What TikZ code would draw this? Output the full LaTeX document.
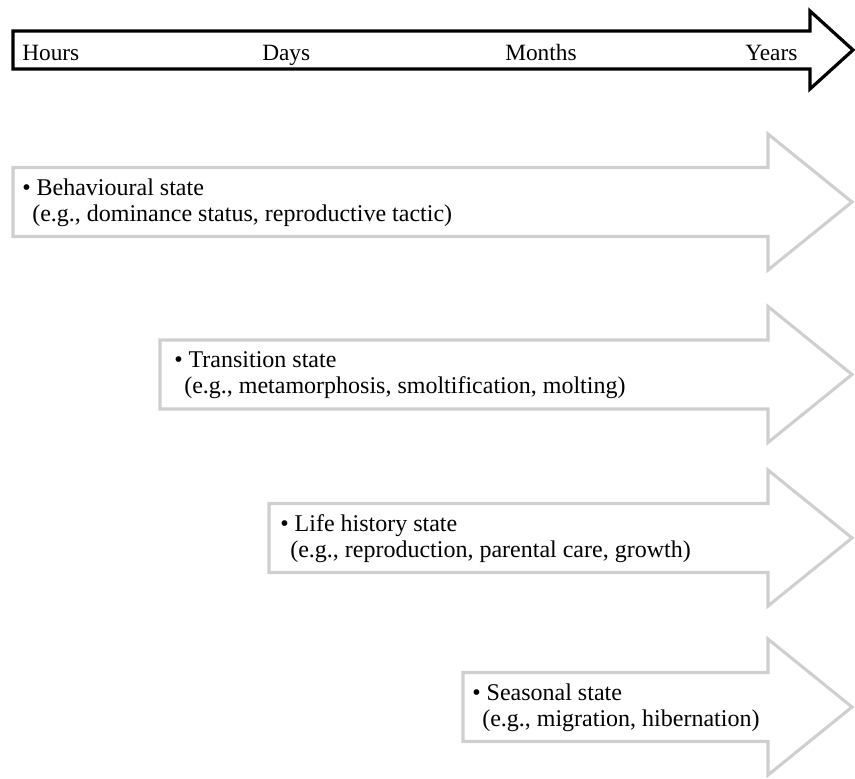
\documentclass[tikz,border=0pt]{standalone}
\usepackage{fontspec}
\setmainfont{Liberation Serif}
\begin{document}
\begin{tikzpicture}[x=0.75pt,y=-0.75pt,
  timearrow/.style={draw=black,line width=2.4pt,fill=white,line join=miter},
  statearrow/.style={draw=black!19,line width=2.3pt,fill=white,line join=miter},
  scalelabel/.style={anchor=base west,inner sep=0pt,font=\fontsize{17.5}{19.5}\selectfont},
  statelabel/.style={anchor=west,inner sep=0pt,align=left,font=\fontsize{18}{19.75}\selectfont}]
\useasboundingbox (0,0) rectangle (855,778);
% time scale arrow
\draw[timearrow] (13,31) -- (810,31) -- (810,11) -- (853,50) -- (810,89) -- (810,69) -- (13,69) -- cycle;
\node[scalelabel] (hours) at (22,60) {Hours};
\node[scalelabel] (days) at (262,60) {Days};
\node[scalelabel] (months) at (505,60) {Months};
\node[scalelabel] (years) at (745,60) {Years};
% state arrows
\foreach \lx/\cy in {13/202, 160/374.5, 269/538, 463/707}{
  \draw[statearrow] (\lx,\cy-34.5) -- (768,\cy-34.5) -- (768,\cy-68) -- (852,\cy)
    -- (768,\cy+68) -- (768,\cy+34.5) -- (\lx,\cy+34.5) -- cycle;
}
\node[statelabel] (behav) at (22,202.5) {\textbullet\ Behavioural state\\\hspace{7.5pt}(e.g., dominance status, reproductive tactic)};
\node[statelabel] (trans) at (174,375) {\textbullet\ Transition state\\\hspace{7.5pt}(e.g., metamorphosis, smoltification, molting)};
\node[statelabel] (life) at (280,538.5) {\textbullet\ Life history state\\\hspace{7.5pt}(e.g., reproduction, parental care, growth)};
\node[statelabel] (season) at (472,707.5) {\textbullet\ Seasonal state\\\hspace{7.5pt}(e.g., migration, hibernation)};
\end{tikzpicture}
\end{document}
